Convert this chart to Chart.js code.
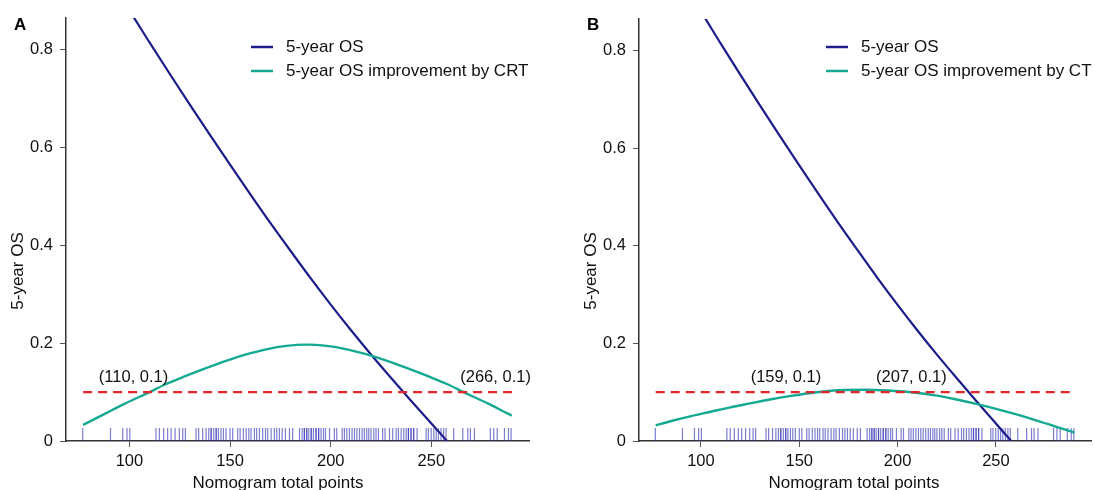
<!DOCTYPE html>
<html><head><meta charset="utf-8">
<script src="https://cdn.jsdelivr.net/npm/chart.js@4.4.0/dist/chart.umd.min.js"></script>
<style>
html,body{margin:0;padding:0;background:#fff;}
#wrap{position:relative;width:1099px;height:490px;overflow:hidden;background:#fff;}
.pane{position:absolute;top:0;height:490px;}
canvas{display:block;}
</style></head><body>
<div id="wrap">
<div class="pane" style="left:0;width:549px"><canvas id="cA" width="549" height="490"></canvas></div>
<div class="pane" style="left:549px;width:550px"><canvas id="cB" width="550" height="490"></canvas></div>
</div>
<script>
// ---- data ----
const xTicks = [100, 150, 200, 250];
const yTicks = [0, 0.2, 0.4, 0.6, 0.8];
const xRange = [68.5, 298.5];
const yRange = [0, 0.865];

const osPoints = [77, 80, 90, 100, 110, 120, 130, 140, 150, 160, 170, 180, 190, 200, 210, 220, 230, 240, 250, 257.8];
const osValues = [1.0, 0.99, 0.94, 0.880, 0.815, 0.751, 0.688, 0.626, 0.565, 0.505, 0.446, 0.389, 0.333, 0.279, 0.227, 0.177, 0.129, 0.082, 0.036, 0.0];

const crtPoints = [77, 88, 98, 110, 118, 128, 138, 148, 158, 168, 178, 188, 198, 208, 218, 228, 238, 248, 258, 266, 278, 288, 290];
const crtValues = [0.033, 0.056, 0.077, 0.100, 0.116, 0.133, 0.149, 0.164, 0.177, 0.1875, 0.1945, 0.197, 0.1945, 0.1875, 0.177, 0.164, 0.149, 0.133, 0.116, 0.100, 0.077, 0.056, 0.052];

const ctPoints = [77, 85, 95, 105, 115, 125, 135, 145, 159, 170, 183, 195, 207, 220, 230, 240, 250, 260, 270, 280, 290];
const ctValues = [0.032, 0.041, 0.051, 0.060, 0.069, 0.077, 0.085, 0.092, 0.100, 0.104, 0.105, 0.1035, 0.100, 0.093, 0.085, 0.076, 0.066, 0.055, 0.043, 0.030, 0.017];

const threshold = 0.1;
const thresholdRange = [77, 290];
const crtCross = [110, 266];
const ctCross = [159, 207];

const rugPoints = [76.8, 90.6, 96.7, 98.8, 100.2, 113.2, 114.9, 117, 119, 120.7, 122.7, 124.8, 126.5, 127.8,
  133.1, 134.4, 136.4, 138.1, 139.4, 140.6, 140.6, 141.9, 143.1, 143.1, 144.2, 145.5, 146.7, 148, 150, 151.3,
  153.8, 155, 156.6, 158, 159.3, 160.4, 162.1, 163.2, 164.6, 166.2, 167.6, 168.7, 170.4, 172, 173.2, 174.5,
  175.9, 177.5, 179.5, 181.1, 184.5, 185.8, 186.9, 186.9, 188.1, 188.1, 189.1, 190.3, 190.3, 191.4, 192.7, 192.7,
  194, 194, 195.2, 196.4, 197.4, 199.4, 201.8, 203, 205.7, 206.8, 208, 209.3, 210.6, 211.8, 213, 214.3, 215.6,
  216.7, 217.9, 218.9, 220, 221.4, 222.5, 223.7, 225.8, 227, 229.2, 230.8, 232.5, 233.6, 235, 236.3, 237.5,
  238.6, 238.6, 239.9, 239.9, 241.2, 241.2, 242.9, 247.4, 248.5, 249.9, 251.2, 252.4, 253.5, 254.8, 256.1, 257.3,
  261.1, 265.6, 268.1, 269.4, 271.4, 279.3, 281, 282.7, 286.3, 288.3, 289.6];
const rugLevel = 0.0133;

// ---- style ----
const NAVY = '#1c1c8a';
const TEAL = '#14a991';
const RED = '#e3262b';
const RUG = 'rgba(45,45,180,0.62)';
const FONT = '"Liberation Sans", Arial, Helvetica, sans-serif';
Chart.defaults.font.family = FONT;
Chart.defaults.color = '#111';

function series(xs, ys) { return xs.map((v, i) => ({ x: v, y: ys[i] })); }

const overlay = {
  id: 'overlay',
  afterDraw(chart, args, o) {
    const { ctx } = chart;
    const x = chart.scales.x, y = chart.scales.y;
    ctx.save();
    ctx.fillStyle = '#000';
    ctx.font = 'bold 17px ' + FONT;
    ctx.textAlign = 'left'; ctx.textBaseline = 'alphabetic';
    ctx.fillText(o.letter, o.letterX, 30);

    ctx.fillStyle = '#111';
    ctx.font = '17px ' + FONT;
    ctx.textAlign = 'center';
    ctx.fillText(o.xTitle, o.xTitleX, 488);

    ctx.save();
    ctx.translate(o.yTitleX, 271);
    ctx.rotate(-Math.PI / 2);
    ctx.textBaseline = 'middle';
    ctx.fillText(o.yTitle, 0, 0);
    ctx.restore();

    ctx.font = '16.5px ' + FONT;
    ctx.textBaseline = 'middle';
    ctx.textAlign = 'center';
    o.crosses.forEach((c, i) => {
      ctx.fillText('(' + c + ', ' + threshold + ')', x.getPixelForValue(c) + o.labelDx[i], y.getPixelForValue(threshold) - 15);
    });

    ctx.font = '17px ' + FONT;
    ctx.textAlign = 'left';
    o.legendIdx.forEach((di, i) => {
      const d = chart.data.datasets[di];
      const yy = o.legY + i * 24;
      ctx.strokeStyle = d.borderColor; ctx.lineWidth = 2.5;
      ctx.beginPath(); ctx.moveTo(o.legX, yy); ctx.lineTo(o.legX + 22, yy); ctx.stroke();
      ctx.fillText(d.label, o.legX + 35, yy);
    });
    ctx.restore();
  }
};

function makePanel(id, gainLabel, gainX, gainY, crosses, cfg) {
  const datasets = [
    { label: 'Threshold', data: series(thresholdRange, [threshold, threshold]), borderColor: RED, borderWidth: 2.2, borderDash: [9, 6], pointRadius: 0, order: 0 },
    { label: gainLabel, data: series(gainX, gainY), borderColor: TEAL, borderWidth: 2.4, pointRadius: 0, cubicInterpolationMode: 'monotone', order: 1 },
    { label: '5-year OS', data: series(osPoints, osValues), borderColor: NAVY, borderWidth: 2.2, pointRadius: 0, cubicInterpolationMode: 'monotone', order: 2 },
    { type: 'scatter', label: 'Patients', data: rugPoints.map(v => ({ x: v, y: rugLevel })), pointStyle: 'line', rotation: 90, pointRadius: 6.5, pointHoverRadius: 6.5, borderColor: RUG, backgroundColor: RUG, borderWidth: 1.2, showLine: false, order: 3 }
  ];
  return new Chart(document.getElementById(id), {
    type: 'line',
    data: { datasets },
    options: {
      responsive: false,
      animation: false,
      events: [],
      layout: { padding: { left: 0, right: cfg.padRight, top: cfg.padTop, bottom: 0 } },
      plugins: {
        legend: { display: false },
        tooltip: { enabled: false },
        overlay: {
          letter: cfg.letter, letterX: cfg.letterX,
          xTitle: 'Nomogram total points', xTitleX: cfg.xTitleX,
          yTitle: '5-year OS', yTitleX: cfg.yTitleX,
          crosses: crosses, labelDx: cfg.labelDx,
          legendIdx: [2, 1], legX: cfg.legX, legY: 47
        }
      },
      scales: {
        x: {
          type: 'linear', min: xRange[0], max: xRange[1],
          afterBuildTicks: s => { s.ticks = xTicks.map(v => ({ value: v })); },
          afterFit: s => { s.height = 49; },
          grid: { drawOnChartArea: false, drawTicks: true, tickLength: 6, color: '#555', lineWidth: 1 },
          border: { display: true, color: '#333', width: 1.5 },
          ticks: { font: { size: 16.5 }, color: '#111', padding: 5, maxRotation: 0 }
        },
        y: {
          type: 'linear', min: yRange[0], max: yRange[1],
          afterBuildTicks: s => { s.ticks = yTicks.map(v => ({ value: v })); },
          afterFit: s => { s.width = cfg.yWidth; },
          grid: { drawOnChartArea: false, drawTicks: true, tickLength: 6, color: '#555', lineWidth: 1 },
          border: { display: true, color: '#333', width: 1.5 },
          ticks: { font: { size: 16.5 }, color: '#111', padding: 7 }
        }
      }
    },
    plugins: [overlay]
  });
}

makePanel('cA', '5-year OS improvement by CRT', crtPoints, crtValues, crtCross,
  { padRight: 20, padTop: 18, yWidth: 66, letter: 'A', letterX: 14, xTitleX: 278, yTitleX: 18, labelDx: [-16, 32], legX: 251 });
makePanel('cB', '5-year OS improvement by CT', ctPoints, ctValues, ctCross,
  { padRight: 2, padTop: 19, yWidth: 90, letter: 'B', letterX: 38, xTitleX: 305, yTitleX: 42, labelDx: [-31, 0], legX: 277 });
</script>
</body></html>
